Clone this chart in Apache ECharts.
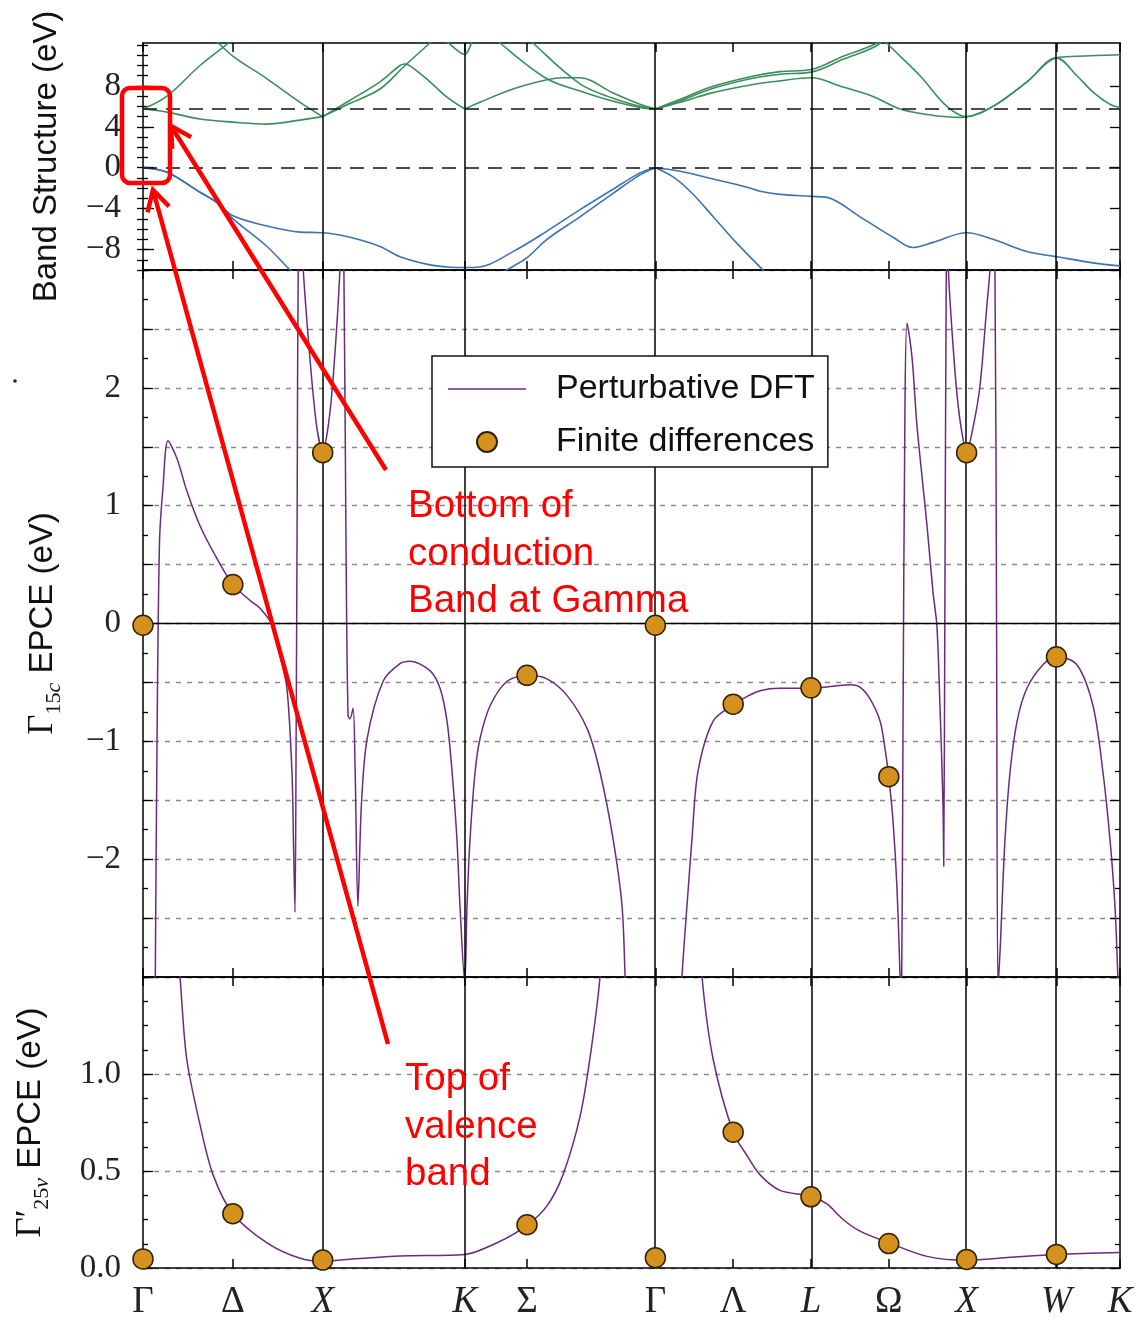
<!DOCTYPE html>
<html><head><meta charset="utf-8">
<script src="https://cdn.jsdelivr.net/npm/echarts@6/dist/echarts.min.js"></script>
<style>html,body{margin:0;padding:0;background:#fff}#c{width:1146px;height:1321px}</style>
</head><body><div id="c"></div>
<script>
// ---------- k-path (units of 2π/a) ----------
const kLabels = ['Γ','Δ','X','K','Σ','Γ','Λ','L','Ω','X','W','K'];
const kPos    = [0, 0.5, 1, 1.7906, 2.137, 2.8513, 3.2843, 3.7173, 4.1503, 4.5833, 5.0833, 5.4369];
const kLineLabels = ['X','K','Γ','L','X','W'];
const kLines  = [1, 1.7906, 2.8513, 3.7173, 4.5833, 5.0833];
const italicLabels = ['X','K','L','W'];

// ---------- band structure (eV) ----------
const bandRefLines = [0, 5.74];      // VBM and CBM(Γ) dashed lines
const topMajor = [-8, -4, 0, 4, 8];
const topMinor = [-10,-9,-8,-7,-6,-5,-4,-3,-2,-1,0,1,2,3,4,5,6,7,8,9,10,11,12];

const cbGX1 = [[0,5.74],[0.134,5.44],[0.317,4.76],[0.501,4.46],[0.690,4.27],[0.874,4.66],[1.0,5.0]];
const cbGX2 = [[0,5.74],[0.134,7.0],[0.317,10.0],[0.484,12.3],[0.53,13.0]];
const cbGX3 = [[0.36,13.0],[0.412,12.3],[0.501,10.9],[0.690,8.7],[0.874,6.4],[1.0,5.0]];
const cbXK1 = [[1.0,5.0],[1.152,6.6],[1.319,8.4],[1.43,10.0],[1.458,10.15],[1.50,9.8],[1.597,8.4],[1.692,6.9],[1.7906,5.74]];
const cbXK2 = [[1.0,5.0],[1.152,6.3],[1.319,7.7],[1.458,10.0],[1.597,12.2],[1.65,13.0]];
const cbK   = [[1.63,13.0],[1.692,12.3],[1.7906,11.1],[1.831,12.3],[1.854,13.0]];
const cbKG1 = [[1.7906,5.74],[1.875,6.4],[2.059,7.7],[2.248,8.6],[2.337,8.8],[2.432,8.8],[2.616,7.3],[2.766,6.2],[2.8513,5.74]];
const cbKG2 = [[1.95,13.0],[1.987,12.2],[2.248,8.7],[2.432,7.5],[2.616,6.5],[2.766,5.9],[2.8513,5.74]];
const cbKG3 = [[2.13,13.0],[2.170,12.2],[2.432,8.2],[2.616,6.8],[2.766,6.0],[2.8513,5.74]];
const cbGL1 = [[2.8513,5.74],[2.99,6.7],[3.16,7.9],[3.38,8.9],[3.545,9.4],[3.7173,9.6],[3.896,10.9],[4.085,12.2],[4.12,13.0]];
const cbGL1b= [[2.8513,5.74],[2.99,6.55],[3.16,7.7],[3.38,8.7],[3.545,9.15],[3.7173,9.35],[3.896,10.6],[4.085,11.95],[4.13,13.0]];
const cbGL2 = [[2.8513,5.74],[2.99,6.4],[3.16,7.3],[3.38,8.1],[3.545,8.5],[3.7173,8.8],[3.896,7.9],[3.990,7.4],[4.085,6.8],[4.213,5.74],[4.363,5.2],[4.474,4.98],[4.546,4.93],[4.5833,4.97],[4.730,6.0],[4.919,8.4],[5.0833,10.75],[5.197,10.9],[5.4369,11.05]];
const cbLX  = [[4.11,13.0],[4.140,12.2],[4.324,9.0],[4.474,6.0],[4.5833,5.0],[4.730,6.0],[4.919,8.4],[5.0833,10.75],[5.197,9.0],[5.287,7.4],[5.381,6.2],[5.4369,5.9]];

const vbGX1 = [[0,0],[0.134,-0.44],[0.317,-2.4],[0.412,-3.4],[0.501,-4.7],[0.690,-5.7],[0.874,-6.3],[1.0,-6.35],[1.152,-6.8],[1.319,-7.7],[1.430,-8.7],[1.597,-9.5],[1.692,-9.7],[1.7906,-9.75],[1.875,-9.7],[2.059,-8.2],[2.248,-6.2],[2.432,-4.1],[2.616,-2.1],[2.766,-0.5],[2.8513,0]];
const vbGX2 = [[0,0],[0.134,-0.44],[0.317,-2.4],[0.412,-3.4],[0.501,-5.0],[0.690,-7.7],[0.818,-10.0],[0.87,-10.8]];
const vbKG2 = [[1.96,-10.8],[2.026,-10.0],[2.137,-8.8],[2.248,-7.0],[2.432,-4.8],[2.616,-2.5],[2.766,-0.7],[2.8513,0]];
const vbGL1 = [[2.8513,0],[2.99,-0.35],[3.172,-1.1],[3.361,-1.9],[3.434,-2.3],[3.545,-2.6],[3.7173,-2.8],[3.806,-2.9],[3.990,-4.8],[4.174,-6.8],[4.285,-7.8],[4.396,-7.3],[4.5833,-6.35],[4.730,-7.0],[4.919,-8.2],[5.0833,-8.7],[5.287,-9.3],[5.4369,-9.6]];
const vbGL2 = [[2.8513,0],[2.95,-0.9],[3.05,-2.4],[3.172,-4.76],[3.30,-7.3],[3.45,-10.0],[3.5,-10.9]];

const condBands = [cbGX1, cbGX2, cbGX3, cbXK1, cbXK2, cbK, cbKG1, cbKG2, cbKG3, cbGL1, cbGL1b, cbGL2, cbLX];
const valBands  = [vbGX1, vbGX2, vbKG2, vbGL1, vbGL2];

// ---------- Γ15c EPCE (eV), perturbative DFT ----------
const epce15cA = [[0.066,-3.6],[0.078,-1.0],[0.092,0.70],[0.111,1.15],[0.139,1.55],[0.189,1.40],[0.245,1.12],[0.317,0.83],[0.412,0.55],[0.5,0.33],[0.6,0.19],[0.651,0.13],[0.723,-0.02],[0.762,-0.27],[0.801,-0.55],[0.829,-1.26],[0.838,-1.9],[0.846,-2.45],[0.852,-1.0],[0.858,1.0],[0.864,3.1],[0.876,3.7],[0.89,3.05],[0.929,2.25],[0.966,1.68],[1.0,1.46],[1.031,1.68],[1.059,2.1],[1.096,3.0],[1.106,3.6],[1.118,3.0],[1.13,0.6],[1.141,-0.78],[1.152,-0.81],[1.169,-0.72],[1.180,-1.2],[1.196,-2.4],[1.215,-1.55],[1.247,-0.98],[1.336,-0.49],[1.43,-0.34],[1.486,-0.32],[1.597,-0.40],[1.653,-0.55],[1.692,-0.83],[1.720,-1.26],[1.747,-1.83],[1.764,-2.4],[1.7906,-3.05],[1.803,-2.4],[1.820,-1.83],[1.848,-1.26],[1.875,-0.98],[1.931,-0.70],[2.026,-0.49],[2.137,-0.44],[2.248,-0.47],[2.359,-0.61],[2.471,-0.89],[2.543,-1.26],[2.616,-1.83],[2.666,-2.4],[2.683,-3.0],[2.70,-3.6]];
const epce15cB = [[2.98,-3.6],[2.999,-3.0],[3.027,-2.4],[3.055,-1.83],[3.088,-1.26],[3.172,-0.83],[3.284,-0.69],[3.361,-0.62],[3.434,-0.57],[3.545,-0.55],[3.7173,-0.55],[3.935,-0.52],[3.990,-0.54],[4.046,-0.64],[4.102,-0.83],[4.129,-1.06],[4.150,-1.30],[4.174,-1.68],[4.196,-2.25],[4.213,-3.0],[4.220,-3.5],[4.229,-1.0],[4.240,1.8],[4.252,2.55],[4.280,2.25],[4.307,1.68],[4.363,0.83],[4.396,0.27],[4.418,-0.02],[4.435,-0.70],[4.452,-1.55],[4.456,-2.06],[4.462,0.0],[4.470,3.0],[4.476,3.6],[4.482,3.0],[4.500,2.53],[4.528,1.97],[4.556,1.63],[4.5833,1.46],[4.621,1.68],[4.658,2.02],[4.695,2.68],[4.713,3.0],[4.727,3.6],[4.741,3.0],[4.750,0.0],[4.758,-3.1],[4.772,-2.7],[4.780,-2.4],[4.797,-1.83],[4.825,-1.26],[4.864,-0.83],[4.919,-0.55],[5.008,-0.35],[5.0833,-0.28],[5.197,-0.35],[5.287,-0.70],[5.342,-1.26],[5.381,-1.83],[5.409,-2.4],[5.425,-3.0],[5.44,-3.6]];

// ---------- Γ'25v EPCE (eV), perturbative DFT ----------
const epce25vA = [[0.17,1.9],[0.206,1.50],[0.243,1.08],[0.317,0.74],[0.390,0.48],[0.5,0.28],[0.690,0.13],[0.874,0.05],[1.0,0.035],[1.152,0.045],[1.430,0.062],[1.7906,0.07],[1.970,0.13],[2.137,0.22],[2.248,0.32],[2.337,0.48],[2.432,0.78],[2.487,1.08],[2.543,1.50],[2.56,1.9]];
const epce25vB = [[3.09,1.9],[3.111,1.50],[3.172,1.08],[3.284,0.70],[3.361,0.58],[3.434,0.48],[3.545,0.40],[3.7173,0.37],[3.806,0.33],[3.896,0.25],[3.990,0.19],[4.150,0.13],[4.363,0.06],[4.5833,0.04],[4.825,0.055],[5.0833,0.07],[5.4369,0.08]];

// ---------- finite differences ----------
const fdK   = [0, 0.5, 1, 2.137, 2.8513, 3.2843, 3.7173, 4.1503, 4.5833, 5.0833];
const fd15c = [-0.015, 0.33, 1.45, -0.44, -0.015, -0.685, -0.546, -1.30, 1.45, -0.283];
const fd25v = [0.047, 0.28, 0.041, 0.223, 0.053, 0.70, 0.367, 0.126, 0.044, 0.07];

// ---------- styling ----------
const F_SERIF = "'Liberation Serif','DejaVu Serif',serif";
const F_SANS  = "'Liberation Sans','Arial',sans-serif";
const GREEN = '#3a8f5a', BLUE = '#3b74b3', PURPLE = '#6b2a7e';
const RED = '#ff0000';
const K_END = kPos[kPos.length - 1];

const fmtNum = v => (v < 0 ? '\u2212' + Math.abs(v) : String(v));
const nearestIdx = v => { let b = 0; kPos.forEach((p, i) => { if (Math.abs(p - v) < Math.abs(kPos[b] - v)) b = i; }); return b; };

function xAx(gi, pos, labels) {
  return {
    type: 'value', gridIndex: gi, position: pos, min: 0, max: K_END,
    axisLine: { show: true, onZero: false, lineStyle: { color: '#000', width: 1.5 } },
    axisTick: { show: true, inside: true, length: 9, customValues: kPos, lineStyle: { color: '#000', width: 1.5 } },
    axisLabel: {
      show: labels, customValues: kPos, margin: 16,
      formatter: v => { const l = kLabels[nearestIdx(v)]; return italicLabels.includes(l) ? '{i|' + l + '}' : '{u|' + l + '}'; },
      rich: {
        i: { fontFamily: F_SERIF, fontStyle: 'italic', fontSize: 37, color: '#222' },
        u: { fontFamily: F_SERIF, fontSize: 37, color: '#222' }
      }
    },
    splitLine: { show: false }
  };
}
const tickLine = { color: '#000', width: 1.3 };
const labelBase = { fontFamily: F_SERIF, fontSize: 33, color: '#222', margin: 22 };
const gridDash = { show: true, lineStyle: { color: '#8a8a8a', width: 1.3, type: [5, 6] } };
const nameRich = {
  g: { fontFamily: F_SERIF, fontSize: 35, lineHeight: 44, verticalAlign: 'middle', color: '#111' },
  s: { fontFamily: F_SERIF, fontSize: 22, lineHeight: 22, verticalAlign: 'bottom', color: '#111' },
  si: { fontFamily: F_SERIF, fontStyle: 'italic', fontSize: 22, lineHeight: 22, verticalAlign: 'bottom', color: '#111' },
  t: { fontFamily: F_SANS, fontSize: 33, lineHeight: 44, verticalAlign: 'middle', color: '#111' }
};

const yAxes = [
  // grid 0 : band structure
  { type: 'value', gridIndex: 0, position: 'left', min: -10, max: 12.2,
    name: 'Band Structure (eV)', nameLocation: 'middle', nameGap: 80,
    nameTextStyle: { fontFamily: F_SANS, fontSize: 33, color: '#111' },
    axisLine: { show: true, onZero: false, lineStyle: { color: '#000', width: 1.5 } },
    axisTick: { show: true, inside: true, length: 11, customValues: topMajor, lineStyle: tickLine },
    axisLabel: Object.assign({ customValues: topMajor, formatter: fmtNum }, labelBase),
    splitLine: { show: false } },
  { type: 'value', gridIndex: 0, position: 'left', min: -10, max: 12.2,
    axisLine: { show: false }, axisLabel: { show: false }, splitLine: { show: false },
    axisTick: { show: true, inside: true, length: 5, customValues: topMinor, lineStyle: tickLine } },
  { type: 'value', gridIndex: 0, position: 'right', min: -10, max: 12.2,
    axisLine: { show: true, onZero: false, lineStyle: { color: '#000', width: 1.5 } },
    axisLabel: { show: false }, splitLine: { show: false },
    axisTick: { show: true, inside: true, length: 10, customValues: topMajor, lineStyle: tickLine } },
  { type: 'value', gridIndex: 0, position: 'right', min: -10, max: 12.2,
    axisLine: { show: false }, axisLabel: { show: false }, splitLine: { show: false },
    axisTick: { show: true, inside: true, length: 6, customValues: topMinor, lineStyle: tickLine } },
  // grid 1 : Γ15c EPCE
  { type: 'value', gridIndex: 1, position: 'left', min: -3, max: 3, interval: 0.5,
    name: '{g|Γ}{s|15}{si|c}{t| EPCE (eV)}', nameLocation: 'middle', nameGap: 78,
    nameTextStyle: { rich: nameRich },
    axisLine: { show: true, onZero: false, lineStyle: { color: '#000', width: 1.5 } },
    axisTick: { show: true, inside: true, length: 10, lineStyle: tickLine },
    minorTick: { show: true, splitNumber: 2, length: 5, lineStyle: tickLine },
    axisLabel: Object.assign({ formatter: v => (Number.isInteger(v) && Math.abs(v) < 3 ? fmtNum(v) : '') }, labelBase),
    splitLine: gridDash },
  { type: 'value', gridIndex: 1, position: 'right', min: -3, max: 3, interval: 0.5,
    axisLine: { show: true, onZero: false, lineStyle: { color: '#000', width: 1.5 } },
    axisTick: { show: true, inside: true, length: 10, lineStyle: tickLine },
    minorTick: { show: true, splitNumber: 2, length: 5, lineStyle: tickLine },
    axisLabel: { show: false }, splitLine: { show: false } },
  // grid 2 : Γ'25v EPCE
  { type: 'value', gridIndex: 2, position: 'left', min: 0, max: 1.5, interval: 0.5,
    name: '{g|Γ′}{s|25}{si|v}{t| EPCE (eV)}', nameLocation: 'middle', nameGap: 90,
    nameTextStyle: { rich: nameRich },
    axisLine: { show: true, onZero: false, lineStyle: { color: '#000', width: 1.5 } },
    axisTick: { show: true, inside: true, length: 10, lineStyle: tickLine },
    minorTick: { show: true, splitNumber: 4, length: 5, lineStyle: tickLine },
    axisLabel: Object.assign({ formatter: v => (v < 1.49 ? v.toFixed(1) : '') }, labelBase),
    splitLine: gridDash },
  { type: 'value', gridIndex: 2, position: 'right', min: 0, max: 1.5, interval: 0.5,
    axisLine: { show: true, onZero: false, lineStyle: { color: '#000', width: 1.5 } },
    axisTick: { show: true, inside: true, length: 10, lineStyle: tickLine },
    minorTick: { show: true, splitNumber: 4, length: 5, lineStyle: tickLine },
    axisLabel: { show: false }, splitLine: { show: false } }
];

function vLines(xi, yi, extra) {
  const data = kLines.map(k => ({ xAxis: k, lineStyle: { color: '#000', width: 1.5, type: 'solid' } })).concat(extra || []);
  return { type: 'line', xAxisIndex: xi, yAxisIndex: yi, data: [], silent: true, z: 1,
    markLine: { silent: true, symbol: ['none', 'none'], label: { show: false }, animation: false, data: data } };
}
function bandSeries(d, color) {
  return { type: 'line', xAxisIndex: 0, yAxisIndex: 0, data: d, symbol: 'none', smooth: 0.35,
    silent: true, z: 3, lineStyle: { color: color, width: 1.6 } };
}
function epceSeries(d, xi, yi) {
  return { name: 'Perturbative DFT', type: 'line', xAxisIndex: xi, yAxisIndex: yi, data: d, symbol: 'none',
    smooth: 0.3, silent: true, z: 3, lineStyle: { color: PURPLE, width: 1.5 }, itemStyle: { color: PURPLE } };
}
function fdSeries(vals, xi, yi) {
  return { name: 'Finite differences', type: 'scatter', xAxisIndex: xi, yAxisIndex: yi,
    data: fdK.map((k, i) => [k, vals[i]]), symbol: 'circle', symbolSize: 20, z: 5, silent: true,
    itemStyle: { color: '#d4911e', borderColor: '#2e2106', borderWidth: 1.5, opacity: 1 } };
}

const series = [
  vLines(0, 0, bandRefLines.map(e => ({ yAxis: e, lineStyle: { color: '#111', width: 1.6, type: [14, 9] } }))),
  ...condBands.map(b => bandSeries(b, GREEN)),
  ...valBands.map(b => bandSeries(b, BLUE)),
  vLines(2, 4, [{ yAxis: 0, lineStyle: { color: '#000', width: 1.4, type: 'solid' } }]),
  epceSeries(epce15cA, 2, 4), epceSeries(epce15cB, 2, 4), fdSeries(fd15c, 2, 4),
  vLines(4, 6),
  epceSeries(epce25vA, 4, 6), epceSeries(epce25vB, 4, 6), fdSeries(fd25v, 4, 6)
];

// ---------- annotations (red overlay) ----------
function arrow(x1, y1, x2, y2) {
  const ang = Math.atan2(y1 - y2, x1 - x2), L = 23, a = Math.PI / 6.2;
  return [
    { type: 'line', z: 100, shape: { x1: x1, y1: y1, x2: x2, y2: y2 }, style: { stroke: RED, lineWidth: 4.5 } },
    { type: 'polyline', z: 100, shape: { points: [[x2 + L * Math.cos(ang + a), y2 + L * Math.sin(ang + a)], [x2, y2], [x2 + L * Math.cos(ang - a), y2 + L * Math.sin(ang - a)]] },
      style: { stroke: RED, lineWidth: 4.5, fill: null, lineJoin: 'miter' } }
  ];
}
const graphics = [
  { type: 'rect', z: 100, shape: { x: 122, y: 88, width: 48, height: 95, r: 8 }, style: { stroke: RED, lineWidth: 4.5, fill: null } },
  ...arrow(386, 470, 171, 126),
  ...arrow(388, 1044, 153, 190),
  { type: 'text', z: 100, left: 408, top: 483, style: { text: 'Bottom of\nconduction\nBand at Gamma', fill: RED, font: '38.5px ' + F_SANS, lineHeight: 47.5 } },
  { type: 'text', z: 100, left: 405, top: 1056, style: { text: 'Top of\nvalence\nband', fill: RED, font: '38.5px ' + F_SANS, lineHeight: 47.5 } },
  { type: 'circle', z: 100, shape: { cx: 15, cy: 381, r: 1.8 }, style: { fill: '#222' } }
];

const chart = echarts.init(document.getElementById('c'), null, { renderer: 'canvas' });
chart.setOption({
  animation: false,
  backgroundColor: '#fff',
  grid: [
    { left: 143, right: 26, top: 43, height: 227 },
    { left: 143, right: 26, top: 270, height: 707 },
    { left: 143, right: 26, top: 977, height: 295 }
  ],
  xAxis: [xAx(0, 'bottom', false), xAx(0, 'top', false), xAx(1, 'bottom', false), xAx(1, 'top', false), xAx(2, 'bottom', true), xAx(2, 'top', false)],
  yAxis: yAxes,
  legend: {
    data: [
      { name: 'Perturbative DFT', icon: 'path://M0,0H78V1.6H0Z' },
      { name: 'Finite differences' }
    ],
    orient: 'vertical', left: 432, top: 356,
    padding: [15, 13, 7, 16], itemWidth: 78, itemHeight: 20, itemGap: 17, selectedMode: false,
    backgroundColor: '#fff', borderColor: '#111', borderWidth: 1.5, z: 20,
    textStyle: { fontFamily: F_SANS, fontSize: 34, color: '#111', lineHeight: 36, padding: [0, 0, 0, 25] }
  },
  series: series,
  graphic: { elements: graphics }
});
</script>
</body></html>
